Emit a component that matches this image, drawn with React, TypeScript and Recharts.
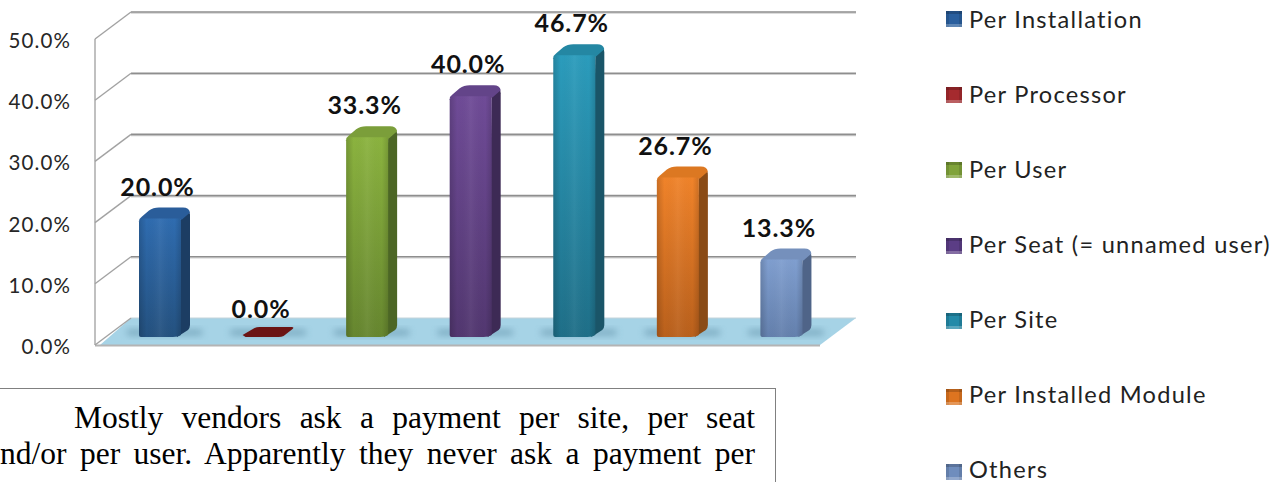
import { Bar, BarChart, CartesianGrid, LabelList, Legend, XAxis, YAxis } from "recharts";

const categories = [
  "Per Installation",
  "Per Processor",
  "Per User",
  "Per Seat (= unnamed user)",
  "Per Site",
  "Per Installed Module",
  "Others",
];
const values = [20.0, 0.0, 33.3, 40.0, 46.7, 26.7, 13.3];
const yTicks = [0, 10, 20, 30, 40, 50];
const noteLines = [
  "Mostly vendors ask a payment per site, per seat",
  "nd/or per user. Apparently they never ask a payment per",
];

// top of front face, bottom of front face, side face, cap
const barColors = [
  ["#2f6cb0", "#24517f", "#1c3d63", "#2a5d9a"],
  ["#7a1818", "#6b1414", "#5a1010", "#6b1414"],
  ["#8bb33f", "#66862f", "#4c6625", "#7b9e3a"],
  ["#6f4b97", "#523770", "#3d2a55", "#634489"],
  ["#2b9cbc", "#1f6f88", "#1a5568", "#2487a3"],
  ["#f0832a", "#b9601c", "#8a4b16", "#dc7822"],
  ["#809fd0", "#6480ad", "#4f6488", "#7590bc"],
];
const legendSwatches = ["#2a5f9e", "#a52a2e", "#80a33a", "#5b3d85", "#238aa8", "#dd7420", "#6f8dbd"];

const data = categories.map((name, i) => ({ name, value: values[i] }));

const WIDTH = 1285;
const HEIGHT = 482;
const SANS = "Lato, sans-serif";
const DEPTH_X = 18;
const DEPTH_BACK = 18;
const DEPTH_FRONT = 9;

function WallLine(props: any) {
  const { x1, x2, y1, index } = props;
  const isFloor = Math.round(y1) === 336;
  const stroke = "#8e8e8e";
  return (
    <g key={`wall-${index}`}>
      {isFloor && (
        <>
          <polygon
            points={`${x1 - 13},${y1 + DEPTH_FRONT} ${x2 - DEPTH_X},${y1 + DEPTH_FRONT} ${x2 + DEPTH_X},${y1 - DEPTH_BACK} ${x1 + DEPTH_X},${y1 - DEPTH_BACK}`}
            fill="#a6d3e6"
          />
          <line x1={x1 - DEPTH_X} y1={y1 + DEPTH_FRONT + 0.5} x2={x2 - DEPTH_X} y2={y1 + DEPTH_FRONT + 0.5} stroke="#b4b4b4" strokeWidth={2} />
          <line x1={x1 - DEPTH_X} y1={y1 + DEPTH_FRONT} x2={x1 - DEPTH_X} y2={y1 - 297} stroke="#ababab" strokeWidth={1.5} />
          <line x1={x1 + DEPTH_X} y1={y1 - DEPTH_BACK} x2={x2 + DEPTH_X} y2={y1 - DEPTH_BACK} stroke="#c4d4da" strokeWidth={1} />
        </>
      )}
      {!isFloor && (
        <>
          <line x1={x1 + DEPTH_X} y1={y1 - DEPTH_BACK + 1.2} x2={x2 + DEPTH_X} y2={y1 - DEPTH_BACK + 1.2} stroke="#d0d0d0" strokeWidth={1.2} />
          <line x1={x1 + DEPTH_X} y1={y1 - DEPTH_BACK} x2={x2 + DEPTH_X} y2={y1 - DEPTH_BACK} stroke={stroke} strokeWidth={1.6} />
        </>
      )}
      <line
        x1={x1 - DEPTH_X}
        y1={y1 + DEPTH_FRONT}
        x2={x1 + DEPTH_X}
        y2={y1 - DEPTH_BACK}
        stroke="#a2a2a2"
        strokeWidth={1.4}
      />
    </g>
  );
}

function AxisTick({ x, y, payload }: any) {
  return (
    <text
      x={71}
      y={y + DEPTH_FRONT + 1}
      textAnchor="end"
      dominantBaseline="central"
      fontFamily={SANS}
      fontSize={20.5}
      letterSpacing={1.1}
      fill="#262626"
    >
      {`${payload.value.toFixed(1)}%`}
    </text>
  );
}

function Bar3D(props: any) {
  const { x, y, width, index } = props;
  const [top, bottom, side, cap] = barColors[index];
  const base = 336;
  const sideW = 9;
  const frontW = width - sideW;
  const id = `bar-${index}`;

  const shadow = (
    <>
      <filter id={`${id}-blur`} x="-30%" y="-100%" width="160%" height="300%">
        <feGaussianBlur stdDeviation="3.5" />
      </filter>
      <rect x={x - 12} y={base - 6} width={width + 24} height={5} fill="#4c7c94" opacity={0.55} filter={`url(#${id}-blur)`} />
    </>
  );

  // flat marker for a zero value
  if (y >= base - 1) {
    return (
      <g>
        {shadow}
        <path
          d={`M${x},${base - 1} L${x + 12},${base - 8} Q${x + 14},${base - 9} ${x + 17},${base - 9} L${x + 49},${base - 9} Q${x + 52},${base - 9} ${x + 50},${base - 7} L${x + 41},${base} Q${x + 39},${base + 1} ${x + 36},${base + 1} L${x + 3},${base + 1} Z`}
          fill={bottom}
        />
      </g>
    );
  }

  const faceTop = y + 5;
  const capTop = y - 6;
  const facePath = `M${x},${faceTop + 3} Q${x + 1},${faceTop + 1} ${x + 3},${faceTop} L${x + frontW - 1},${faceTop} L${x + frontW},${faceTop + 1} L${x + frontW},${base - 1} Q${x + frontW - 3},${base + 1} ${x + frontW - 8},${base + 1} L${x + 2},${base + 1} Q${x},${base + 1} ${x},${base - 1} Z`;
  return (
    <g>
      <defs>
        <linearGradient id={`${id}-v`} x1="0" y1="0" x2="0" y2="1">
          <stop offset="0" stopColor={top} />
          <stop offset="1" stopColor={bottom} />
        </linearGradient>
        <linearGradient id={`${id}-h`} x1="0" y1="0" x2="1" y2="0">
          <stop offset="0" stopColor="#000" stopOpacity={0.16} />
          <stop offset="0.18" stopColor="#000" stopOpacity={0} />
          <stop offset="0.5" stopColor="#fff" stopOpacity={0.05} />
          <stop offset="0.85" stopColor="#000" stopOpacity={0} />
          <stop offset="1" stopColor="#000" stopOpacity={0.14} />
        </linearGradient>
      </defs>
      {shadow}
      <path
        d={`M${x + frontW},${faceTop} L${x + width - 1},${capTop + 4} Q${x + width},${capTop + 6} ${x + width},${capTop + 8} L${x + width},${base - 11} Q${x + width},${base - 8} ${x + width - 2},${base - 6} L${x + frontW - 4},${base + 1} L${x + frontW},${faceTop} Z`}
        fill={side}
      />
      <path
        d={`M${x},${faceTop + 3} Q${x},${faceTop} ${x + 3},${faceTop - 2} L${x + 10},${capTop + 3} Q${x + 14},${capTop} ${x + 20},${capTop} L${x + width - 7},${capTop} Q${x + width - 1},${capTop} ${x + width},${capTop + 5} L${x + frontW + 1},${faceTop + 1} L${x + 3},${faceTop + 1} Z`}
        fill={cap}
      />
      <path d={facePath} fill={`url(#${id}-v)`} />
      <path d={facePath} fill={`url(#${id}-h)`} />
    </g>
  );
}

function ValueLabel({ x, y, width, value }: any) {
  return (
    <text
      x={x + width / 2 - 7}
      y={y - 28}
      textAnchor="middle"
      dominantBaseline="central"
      fontFamily={SANS}
      fontWeight={700}
      fontSize={25}
      letterSpacing={0.9}
      fill="#111"
    >
      {`${Number(value).toFixed(1)}%`}
    </text>
  );
}

function CategoryLegend() {
  return (
    <div style={{ position: "relative", fontFamily: SANS, fontSize: 23.6, color: "#222", letterSpacing: 1.27 }}>
      {categories.map((name, i) => (
        <div key={name}>
          <span
            style={{
              position: "absolute",
              left: 0,
              top: 19 + i * 75.5 - 8,
              width: 16,
              height: 16,
              background: legendSwatches[i],
              boxShadow: "inset 0 -3px 0 rgba(255,255,255,0.25), inset 0 3px 0 rgba(0,0,0,0.18), inset 3px 0 0 rgba(0,0,0,0.1), inset -3px 0 0 rgba(0,0,0,0.1)",
            }}
          />
          <span
            style={{
              position: "absolute",
              left: 23,
              top: 18.5 + i * 75.1 - 12,
              lineHeight: "24px",
              whiteSpace: "nowrap",
            }}
          >
            {name}
          </span>
        </div>
      ))}
    </div>
  );
}

export default function App() {
  return (
    <div style={{ position: "absolute", left: 0, top: 0, width: WIDTH, height: HEIGHT, overflow: "hidden", background: "#fff" }}>
      <BarChart
        width={WIDTH}
        height={HEIGHT}
        data={data}
        margin={{ top: 30, right: 447, bottom: 146, left: 0 }}
      >
        <CartesianGrid vertical={false} horizontal={WallLine} />
        <XAxis dataKey="name" hide />
        <YAxis
          width={113}
          domain={[0, 50]}
          ticks={yTicks}
          axisLine={false}
          tickLine={false}
          tick={AxisTick}
          interval={0}
        />
        <Legend
          content={CategoryLegend}
          wrapperStyle={{ position: "absolute", left: 946, top: 0, width: 0, height: 0 }}
        />
        <Bar dataKey="value" barSize={51} shape={Bar3D} isAnimationActive={false}>
          <LabelList dataKey="value" content={ValueLabel} />
        </Bar>
      </BarChart>

      <div
        style={{
          position: "absolute",
          left: -4,
          top: 388,
          width: 780,
          height: 120,
          border: "1.5px solid #808080",
          boxSizing: "border-box",
        }}
      />
      {noteLines.map((line, i) => (
        <div
          key={line}
          style={{
            position: "absolute",
            left: i === 0 ? 74 : 0,
            top: 402 + i * 36,
            width: i === 0 ? 681 : 755,
            fontFamily: "'Liberation Serif', serif",
            fontSize: 31.5,
            lineHeight: "32px",
            color: "#000",
            textAlign: "justify",
            textAlignLast: "justify",
          }}
        >
          {line}
        </div>
      ))}
    </div>
  );
}
